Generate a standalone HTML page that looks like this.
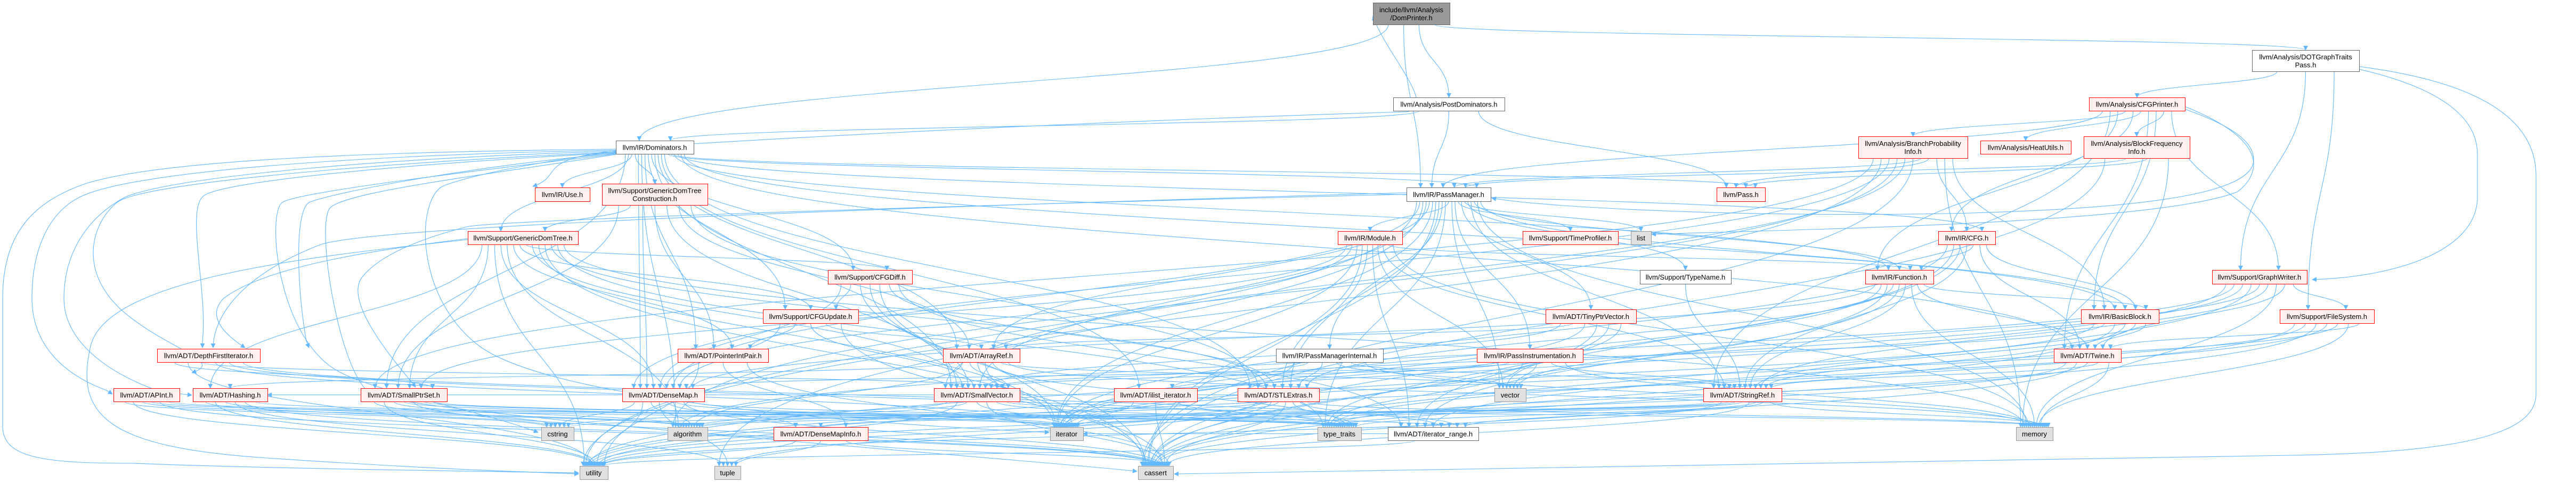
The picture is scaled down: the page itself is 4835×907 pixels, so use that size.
<!DOCTYPE html>
<html><head><meta charset="utf-8"><style>
html,body{margin:0;padding:0;background:#fff;width:4835px;height:907px;overflow:hidden}
svg{display:block}
text{font-family:"Liberation Sans",Arial,sans-serif;font-size:13px;fill:#000;text-anchor:middle}
</style></head><body>
<svg id="g" width="4835" height="907" viewBox="0 0 4835 907" xmlns="http://www.w3.org/2000/svg">
<defs><marker id="a" viewBox="0 0 10 10" refX="9" refY="5" markerWidth="9" markerHeight="9" orient="auto-start-reverse" markerUnits="userSpaceOnUse"><path d="M0,0 L10,5 L0,10 z" fill="#63b8ff"/></marker></defs>
<g id="edges" fill="none" stroke="#63b8ff" stroke-width="1.1"></g>
<g id="nodes"></g>
</svg>
<script>
var N={
DP:[2577,2721,5,46,"include/llvm/Analysis|/DomPrinter.h","s"],
PD:[2615,2824,183,208,"llvm/Analysis/PostDominators.h","w"],
DOT:[4227,4428,94,134,"llvm/Analysis/DOTGraphTraits|Pass.h","w"],
CFGP:[3921,4101,183,208,"llvm/Analysis/CFGPrinter.h","r"],
DOM:[1156,1302,264,289,"llvm/IR/Dominators.h","w"],
BPI:[3488,3693,256,297,"llvm/Analysis/BranchProbability|Info.h","r"],
HU:[3717,3887,264,289,"llvm/Analysis/HeatUtils.h","r"],
BFI:[3911,4110,256,297,"llvm/Analysis/BlockFrequency|Info.h","r"],
USE:[1004,1107,352,378,"llvm/IR/Use.h","r"],
GDTC:[1130,1328,345,385,"llvm/Support/GenericDomTree|Construction.h","r"],
PM:[2640,2798,352,378,"llvm/IR/PassManager.h","w"],
PASS:[3222,3313,352,378,"llvm/Pass.h","r"],
GDT:[878,1085,434,459,"llvm/Support/GenericDomTree.h","r"],
MOD:[2511,2632,434,459,"llvm/IR/Module.h","r"],
TP:[2858,3037,434,459,"llvm/Support/TimeProfiler.h","r"],
LIST:[3061,3099,434,459,"list","g"],
CFG:[3638,3745,434,459,"llvm/IR/CFG.h","r"],
CFGD:[1554,1712,507,533,"llvm/Support/CFGDiff.h","r"],
TN:[3078,3249,507,533,"llvm/Support/TypeName.h","w"],
FN:[3501,3629,507,533,"llvm/IR/Function.h","r"],
GW:[4152,4330,507,533,"llvm/Support/GraphWriter.h","r"],
CFGU:[1432,1611,581,607,"llvm/Support/CFGUpdate.h","r"],
TPV:[2901,3071,581,607,"llvm/ADT/TinyPtrVector.h","r"],
BB:[3906,4052,581,607,"llvm/IR/BasicBlock.h","r"],
FS:[4279,4456,581,607,"llvm/Support/FileSystem.h","r"],
DFI:[295,488,655,680,"llvm/ADT/DepthFirstIterator.h","r"],
PIP:[1272,1442,655,680,"llvm/ADT/PointerIntPair.h","r"],
AR:[1770,1914,655,680,"llvm/ADT/ArrayRef.h","r"],
PMI:[2395,2596,655,680,"llvm/IR/PassManagerInternal.h","w"],
PI:[2772,2971,655,680,"llvm/IR/PassInstrumentation.h","r"],
TW:[3855,3981,655,680,"llvm/ADT/Twine.h","r"],
API:[213,337,729,754,"llvm/ADT/APInt.h","r"],
HASH:[362,502,729,754,"llvm/ADT/Hashing.h","r"],
SPS:[677,839,729,754,"llvm/ADT/SmallPtrSet.h","r"],
DM:[1168,1322,729,754,"llvm/ADT/DenseMap.h","r"],
SV:[1753,1914,729,754,"llvm/ADT/SmallVector.h","r"],
ILI:[2091,2247,729,754,"llvm/ADT/ilist_iterator.h","r"],
STL:[2323,2476,729,754,"llvm/ADT/STLExtras.h","r"],
VEC:[2805,2864,729,754,"vector","g"],
SR:[3197,3344,729,754,"llvm/ADT/StringRef.h","r"],
CSTR:[1016,1077,802,827,"cstring","g"],
ALG:[1253,1328,802,827,"algorithm","g"],
DMI:[1452,1629,802,827,"llvm/ADT/DenseMapInfo.h","r"],
ITER:[1971,2033,802,827,"iterator","g"],
TT:[2473,2555,802,827,"type_traits","g"],
IR:[2605,2775,802,827,"llvm/ADT/iterator_range.h","w"],
MEM:[3784,3853,802,827,"memory","g"],
UTIL:[1088,1141,875,900,"utility","g"],
TUP:[1341,1390,875,900,"tuple","g"],
CASS:[2136,2202,875,900,"cassert","g"]
};
var E="DP>DOM DP>PD DP>PM DP>DOT PD>DOM PD>PM PD>PASS DOT>CFGP DOT>GW DOT>FS CFGP>BPI CFGP>HU CFGP>BFI CFGP>PM CFGP>CFG CFGP>FN CFGP>GW CFGP>BB CFGP>SR CFGP>TW "+
"BPI>PASS BPI>CFG BPI>BB BPI>PM BPI>DM BPI>SPS BPI>SV BPI>MEM BPI>ALG BPI>UTIL BPI>CASS BFI>PASS BFI>PM BFI>MEM BFI>CASS "+
"DOM>USE DOM>GDTC DOM>GDT DOM>PIP DOM>CFGD DOM>CFGU DOM>AR DOM>SPS DOM>DM DOM>SV DOM>PM DOM>CFG DOM>BB DOM>TW DOM>STL DOM>ILI DOM>ALG DOM>FN DOM>PASS "+
"GDTC>GDT GDTC>PIP GDTC>SPS GDTC>AR GDTC>DM GDTC>SV GDTC>STL "+
"GDT>SPS GDT>CFGD GDT>CFGU GDT>DM GDT>SV GDT>PIP GDT>STL GDT>ITER GDT>ALG GDT>UTIL GDT>MEM GDT>CASS GDT>TT GDT>HASH "+
"CFGD>CFGU CFGD>DM CFGD>SV CFGD>STL CFGD>IR CFGD>CASS CFGD>ITER CFGU>PIP CFGU>AR CFGU>DM CFGU>SV CFGU>CASS "+
"PM>MOD PM>TP PM>LIST PM>FN PM>TN PM>TPV PM>PMI PM>PI PM>STL PM>SV PM>DM PM>VEC PM>MEM PM>CASS PM>TT PM>UTIL PM>TUP PM>ITER PM>SR PM>AR PM>BB "+
"MOD>FN MOD>STL MOD>SR MOD>IR MOD>VEC MOD>MEM MOD>CASS MOD>ITER MOD>DM MOD>SPS "+
"TPV>VEC TPV>SV TPV>AR TPV>CASS TPV>ITER TPV>TT PMI>STL PMI>SR PMI>MEM PMI>VEC PMI>UTIL PMI>SV PI>VEC PI>SV PI>SR PI>DM PI>MEM PI>TT TN>SR "+
"CFG>FN CFG>BB CFG>TW CFG>IR CFG>CASS CFG>ITER CFG>SR FN>BB FN>TW FN>SR FN>MEM FN>IR FN>CASS FN>STL FN>DM FN>ITER "+
"BB>TW BB>IR BB>ILI BB>CASS BB>SR BB>ITER GW>FS GW>TW GW>SR GW>ALG GW>CASS GW>MEM GW>UTIL GW>VEC GW>ITER FS>TW FS>SR FS>MEM FS>CASS FS>TT FS>UTIL FS>ITER "+
"TW>SR TW>CASS TW>UTIL TW>MEM TW>TT DFI>SPS DFI>SV DFI>IR DFI>ITER DFI>UTIL DFI>TT API>CASS API>UTIL API>ALG API>CSTR API>ITER API>TT "+
"HASH>CASS HASH>UTIL HASH>TUP HASH>ALG HASH>CSTR HASH>TT SPS>CASS SPS>CSTR SPS>ITER SPS>UTIL SPS>IR SPS>TT SPS>ALG "+
"DM>DMI DM>ALG DM>CSTR DM>UTIL DM>TUP DM>ITER DM>CASS DM>TT AR>SV AR>ITER AR>HASH AR>ALG AR>CASS AR>MEM AR>VEC AR>TT "+
"SV>ALG SV>CSTR SV>ITER SV>MEM SV>UTIL SV>CASS SV>TT ILI>ITER ILI>CASS ILI>TT STL>ITER STL>IR STL>TT STL>UTIL STL>CASS STL>ALG STL>TUP STL>MEM STL>HASH "+
"SR>DMI SR>ALG SR>CSTR SR>ITER SR>UTIL SR>TT SR>CASS SR>IR SR>MEM DMI>UTIL DMI>TUP DMI>CASS IR>ITER IR>UTIL PIP>DMI PIP>CASS PIP>UTIL";
var NS="http://www.w3.org/2000/svg";
var eg=document.getElementById("edges"),ng=document.getElementById("nodes");
function addPath(d){var e=document.createElementNS(NS,"path");e.setAttribute("d",d);e.setAttribute("marker-end","url(#a)");eg.appendChild(e);}
var outc={},inc={};
var list=E.split(" ").map(function(s){return s.split(">")}).filter(function(p){return N[p[0]]&&N[p[1]]});
list.forEach(function(p){outc[p[0]]=(outc[p[0]]||0)+1;inc[p[1]]=(inc[p[1]]||0)+1});
var oi={},ii={};
list.sort(function(a,b){return (N[a[1]][0]+N[a[1]][1])-(N[b[1]][0]+N[b[1]][1])});
list.forEach(function(p){
 var s=N[p[0]],t=N[p[1]];
 var k=oi[p[0]]=(oi[p[0]]||0)+1, m=ii[p[1]]=(ii[p[1]]||0)+1;
 var sw=(s[1]-s[0])*0.8, tw=(t[1]-t[0])*0.8;
 var sx=s[0]+(s[1]-s[0])*0.1+sw*(k-0.5)/outc[p[0]];
 var tx=t[0]+(t[1]-t[0])*0.1+tw*(m-0.5)/inc[p[1]];
 var sy=s[3], ty=t[2];
 var d;
 if(ty>sy){
  var dy=ty-sy;
  d="M"+sx.toFixed(1)+","+sy+" C"+sx.toFixed(1)+","+(sy+dy*0.5).toFixed(1)+" "+tx.toFixed(1)+","+(ty-dy*0.5).toFixed(1)+" "+tx.toFixed(1)+","+ty;
 }else{
  var right=t[0]>s[1];
  sx=right?s[1]:s[0]; sy=(s[2]+s[3])/2; tx=right?t[0]:t[1]; ty=(t[2]+t[3])/2;
  d="M"+sx+","+sy+" C"+((sx+tx)/2)+","+sy+" "+((sx+tx)/2)+","+ty+" "+tx+","+ty;
 }
 addPath(d);
});
/* long sweeping edges on the far left, as in the reference */
var sweeps=[
"M1156,280 C700,285 300,300 160,345 C60,380 5,440 5,560 L5,800 C5,860 80,870 250,870 C500,880 900,885 1086,888",
"M1156,282 C700,290 250,320 150,370 C90,400 60,470 60,560 C60,640 110,700 200,733 L211,740",
"M1156,284 C750,295 330,330 235,370 C160,410 120,480 120,560 C120,640 200,700 300,735 L360,742",
"M1156,286 C800,300 270,340 220,380 C170,420 140,520 250,600 C330,660 420,680 360,700",
"M1156,287 C800,305 400,340 380,370 C350,400 390,550 380,640 L380,653",
"M1156,288 C900,310 630,360 580,380 C550,400 560,560 575,640 L580,653",
"M1156,289 C900,320 560,360 530,380 C500,400 520,640 640,700 C720,740 900,770 1010,812",
"M1156,290 C900,330 650,360 620,390 C590,420 640,720 700,740 C800,780 1900,860 2134,885",
"M1156,285 C1000,305 880,330 830,350 C780,380 780,560 900,650 C1050,760 1700,800 1969,812",
"M1156,283 C1000,300 1060,330 1000,350",
"M878,450 C600,480 200,520 170,650 C140,780 200,840 500,860 C800,880 950,885 1086,890",
"M878,448 C700,470 500,500 420,560 C380,600 440,640 460,653",
"M2640,365 C2000,380 1000,410 880,425 C820,440 720,470 680,520 C640,570 760,700 780,727",
"M2640,362 C2000,380 700,420 600,460 C420,530 400,620 400,653",
"M1302,270 C1800,240 2300,220 2640,210 C2700,200 2600,100 2577,30",
"M4428,125 C4700,160 4760,250 4760,330 L4760,740 C4760,820 4600,850 4300,855 C3500,870 2800,880 2204,890",
"M4428,130 C4600,170 4650,230 4650,290 L4650,370 C4650,470 4500,520 4340,525",
"M4101,205 C4200,240 4230,270 4230,300 C4230,360 4050,390 3700,400 C3300,410 2900,390 2800,372",
"M4101,200 C4250,260 4250,320 4200,360 C4050,420 3400,430 3100,440"
];
sweeps.forEach(addPath);
for(var k in N){var n=N[k];
 var r=document.createElementNS(NS,"rect");
 r.setAttribute("x",n[0]+0.5);r.setAttribute("y",n[2]+0.5);r.setAttribute("width",n[1]-n[0]);r.setAttribute("height",n[3]-n[2]);
 var st={s:["#999999","#666666"],w:["#ffffff","#666666"],r:["#fff0f0","#ff0000"],g:["#e0e0e0","#999999"]}[n[5]];
 r.setAttribute("fill",st[0]);r.setAttribute("stroke",st[1]);r.setAttribute("stroke-width","1");ng.appendChild(r);
 var lines=n[4].split("|"),cx=(n[0]+n[1])/2,cy=(n[2]+n[3])/2;
 lines.forEach(function(l,i){var t=document.createElementNS(NS,"text");t.setAttribute("x",cx);
  t.setAttribute("y",cy+5+(i-(lines.length-1)/2)*15);t.textContent=l;ng.appendChild(t);});
}
</script>
</body></html>
